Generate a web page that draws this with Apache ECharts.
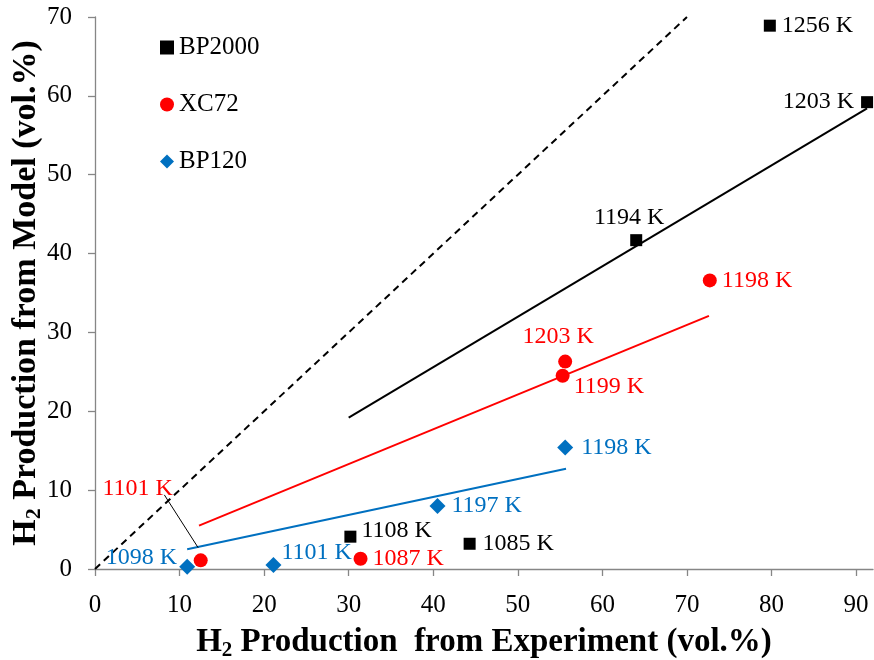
<!DOCTYPE html>
<html>
<head>
<meta charset="utf-8">
<script src="https://cdn.jsdelivr.net/npm/echarts@6/dist/echarts.min.js"></script>
<style>
  html, body { margin: 0; padding: 0; background: #fff; }
  #chart { width: 874px; height: 660px; }
</style>
</head>
<body>
<div id="chart"></div>
<script>
// Measured points: experiment (x) vs model (y), H2 vol.%
const bp2000X = [79.8, 91.3, 64.0, 30.2, 44.3];
const bp2000Y = [68.9, 59.2, 41.7, 4.1, 3.2];
const bp2000T = ['1256 K', '1203 K', '1194 K', '1108 K', '1085 K'];

const xc72X = [72.7, 55.6, 55.3, 31.4, 12.5];
const xc72Y = [36.6, 26.3, 24.5, 1.3, 1.1];
const xc72T = ['1198 K', '1203 K', '1199 K', '1087 K', '1101 K'];

const bp120X = [55.6, 40.5, 21.1, 10.9];
const bp120Y = [15.4, 8.0, 0.5, 0.3];
const bp120T = ['1198 K', '1197 K', '1101 K', '1098 K'];

// Trend line end points
const bp2000FitX = [30.0, 91.3];
const bp2000FitY = [19.2, 58.4];
const xc72FitX = [12.3, 72.6];
const xc72FitY = [5.5, 32.1];
const bp120FitX = [10.9, 55.7];
const bp120FitY = [2.5, 12.7];

// Parity line y = x
const parityX = [0, 70];
const parityY = [0, 70];

// Leader from the "1101 K" label to its XC72 point
const leaderX = [8.2, 12.2];
const leaderY = [9.4, 2.7];

const xTicks = [0, 10, 20, 30, 40, 50, 60, 70, 80, 90];
const seriesNames = ['BP2000', 'XC72', 'BP120'];

const FONT = 'Liberation Serif, "Times New Roman", serif';
const BLACK = '#000000', RED = '#FF0000', BLUE = '#0070C0';
const AXIS = '#868686';

// Label placement for each point
const bp2000Lab = [
  { position: 'right', distance: 6 },
  { position: 'left', distance: 7 },
  { position: 'top', distance: 4, offset: [-7, 0] },
  { position: 'right', distance: 5, offset: [0, -6] },
  { position: 'right', distance: 7 }
];
const xc72Lab = [
  { position: 'right', distance: 5 },
  { position: 'top', distance: 6, offset: [-7, 0] },
  { position: 'right', distance: 4, offset: [0, 11] },
  { position: 'right', distance: 5 },
  { position: 'inside', offset: [-63, -72] }
];
const bp120Lab = [
  { position: 'right', distance: 8 },
  { position: 'right', distance: 6 },
  { position: 'right', distance: 0, offset: [0, -12] },
  { position: 'left', distance: 2, offset: [0, -9] }
];

function pairs(xs, ys) {
  return xs.map((x, i) => [x, ys[i]]);
}
function points(xs, ys, names, placement) {
  return xs.map((x, i) => ({
    value: [x, ys[i]],
    name: names[i],
    label: placement[i]
  }));
}
function lineSeries(xs, ys, color, width, type) {
  return {
    type: 'line',
    data: pairs(xs, ys),
    symbol: 'none',
    lineStyle: { color: color, width: width, type: type || 'solid', opacity: 1 },
    silent: true,
    z: 1
  };
}
function scatterSeries(name, symbol, size, color, data) {
  return {
    name: name,
    type: 'scatter',
    symbol: symbol,
    symbolSize: size,
    itemStyle: { color: color, opacity: 1 },
    label: {
      show: true,
      formatter: '{b}',
      color: color,
      fontFamily: FONT,
      fontSize: 24
    },
    data: data,
    z: 3
  };
}

function titleRich(size) {
  return {
    m: { fontFamily: FONT, fontWeight: 'bold', fontSize: size, color: BLACK, lineHeight: size + 4 },
    s: { fontFamily: FONT, fontWeight: 'bold', fontSize: Math.round(size * 0.65), color: BLACK,
         lineHeight: Math.round(size * 0.5), verticalAlign: 'bottom' }
  };
}

const chart = echarts.init(document.getElementById('chart'), null, { renderer: 'canvas' });
chart.setOption({
  animation: false,
  backgroundColor: '#ffffff',
  grid: { left: 95, right: 1, top: 17, bottom: 91, containLabel: false, outerBoundsMode: 'none' },
  legend: {
    data: seriesNames,
    orient: 'vertical',
    left: 160,
    top: 35,
    padding: 0,
    itemWidth: 14,
    itemHeight: 14,
    itemGap: 32,
    itemStyle: { opacity: 1 },
    textStyle: { fontFamily: FONT, fontSize: 25, color: BLACK }
  },
  xAxis: {
    type: 'value',
    min: 0,
    max: 92,
    interval: 10,
    name: '{m|H}{s|2}{m| Production  from Experiment (vol.%)}',
    nameLocation: 'middle',
    nameGap: 55,
    nameTextStyle: { rich: titleRich(33) },
    splitLine: { show: false },
    axisLine: { lineStyle: { color: AXIS, width: 1.3 } },
    axisTick: { show: true, length: 7, inside: false, customValues: xTicks, lineStyle: { color: AXIS, width: 1.3 } },
    axisLabel: { customValues: xTicks, margin: 24, fontFamily: FONT, fontSize: 25, color: BLACK }
  },
  yAxis: {
    type: 'value',
    min: 0,
    max: 70,
    interval: 10,
    name: '{m|H}{s|2}{m| Production from Model (vol.%)}',
    nameLocation: 'middle',
    nameRotate: 90,
    nameGap: 50,
    nameMoveOverlap: false,
    nameTextStyle: { rich: titleRich(34) },
    splitLine: { show: false },
    axisLine: { show: true, lineStyle: { color: AXIS, width: 1.3 } },
    axisTick: { show: true, length: 7, inside: false, lineStyle: { color: AXIS, width: 1.3 } },
    axisLabel: { margin: 23, fontFamily: FONT, fontSize: 25, color: BLACK }
  },
  series: [
    lineSeries(parityX, parityY, BLACK, 2, [7, 5]),
    lineSeries(bp2000FitX, bp2000FitY, BLACK, 2),
    lineSeries(xc72FitX, xc72FitY, RED, 2),
    lineSeries(bp120FitX, bp120FitY, BLUE, 2),
    lineSeries(leaderX, leaderY, BLACK, 1),
    scatterSeries('BP2000', 'rect', 12, BLACK, points(bp2000X, bp2000Y, bp2000T, bp2000Lab)),
    scatterSeries('XC72', 'circle', 14, RED, points(xc72X, xc72Y, xc72T, xc72Lab)),
    scatterSeries('BP120', 'diamond', 16, BLUE, points(bp120X, bp120Y, bp120T, bp120Lab))
  ]
});
</script>
</body>
</html>
